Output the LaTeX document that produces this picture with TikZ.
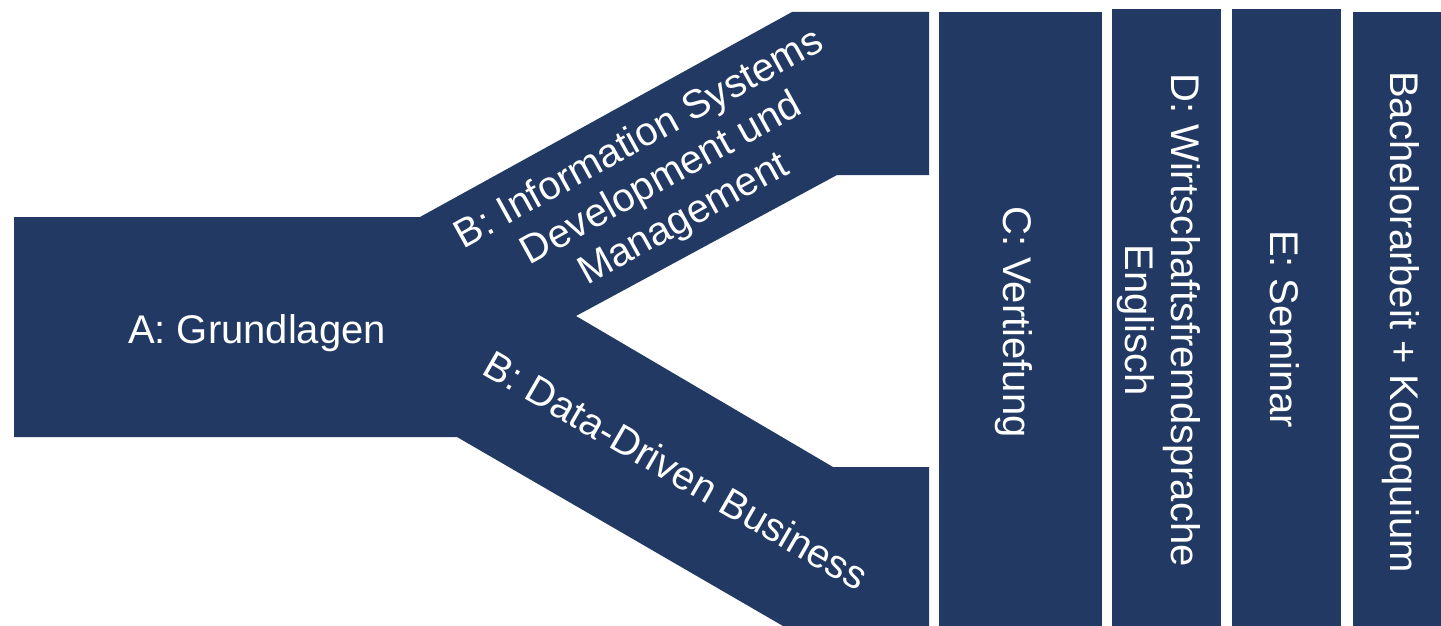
\documentclass[tikz,border=0pt]{standalone}
\usepackage{fontspec}
\setmainfont{Liberation Sans}
\definecolor{navy}{RGB}{33,57,99}
\begin{document}
\begin{tikzpicture}[x=1pt,y=-1pt,
  blk/.style={fill=navy},
  lbl/.style={text=white,font=\fontsize{40}{46}\selectfont,inner sep=0pt,align=center}]
\useasboundingbox (0,0) rectangle (1441,626);
% A + B branches
\fill[blk] (14,217) -- (420,217) -- (792,12) -- (929,12) -- (929,175) -- (837,175)
  -- (576,316) -- (833,467) -- (929,467) -- (929,626) -- (783,626) -- (457,437)
  -- (14,437) -- cycle;
% vertical bars
\fill[blk] (939,12) rectangle (1102,626);
\fill[blk] (1112,9) rectangle (1221,626);
\fill[blk] (1232,9) rectangle (1341,626);
\fill[blk] (1353,12) rectangle (1441,626);
% labels
\node[lbl,anchor=base] (a) at (257,343) {A: Grundlagen};
\node[lbl,rotate=29] (b1) at (662,180) {B: Information Systems\\Development und\\Management};
\node[lbl,rotate=-30] (b2) at (676,470) {B: Data-Driven Business};
\node[lbl,rotate=-90,anchor=base] (c) at (1003,322) {C: Vertiefung};
\node[lbl,rotate=-90] (d) at (1159,320) {D: Wirtschaftsfremdsprache\\Englisch};
\node[lbl,rotate=-90,anchor=base] (e) at (1270,329) {E: Seminar};
\node[lbl,rotate=-90,anchor=base] (f) at (1390,322) {Bachelorarbeit + Kolloquium};
\end{tikzpicture}
\end{document}
